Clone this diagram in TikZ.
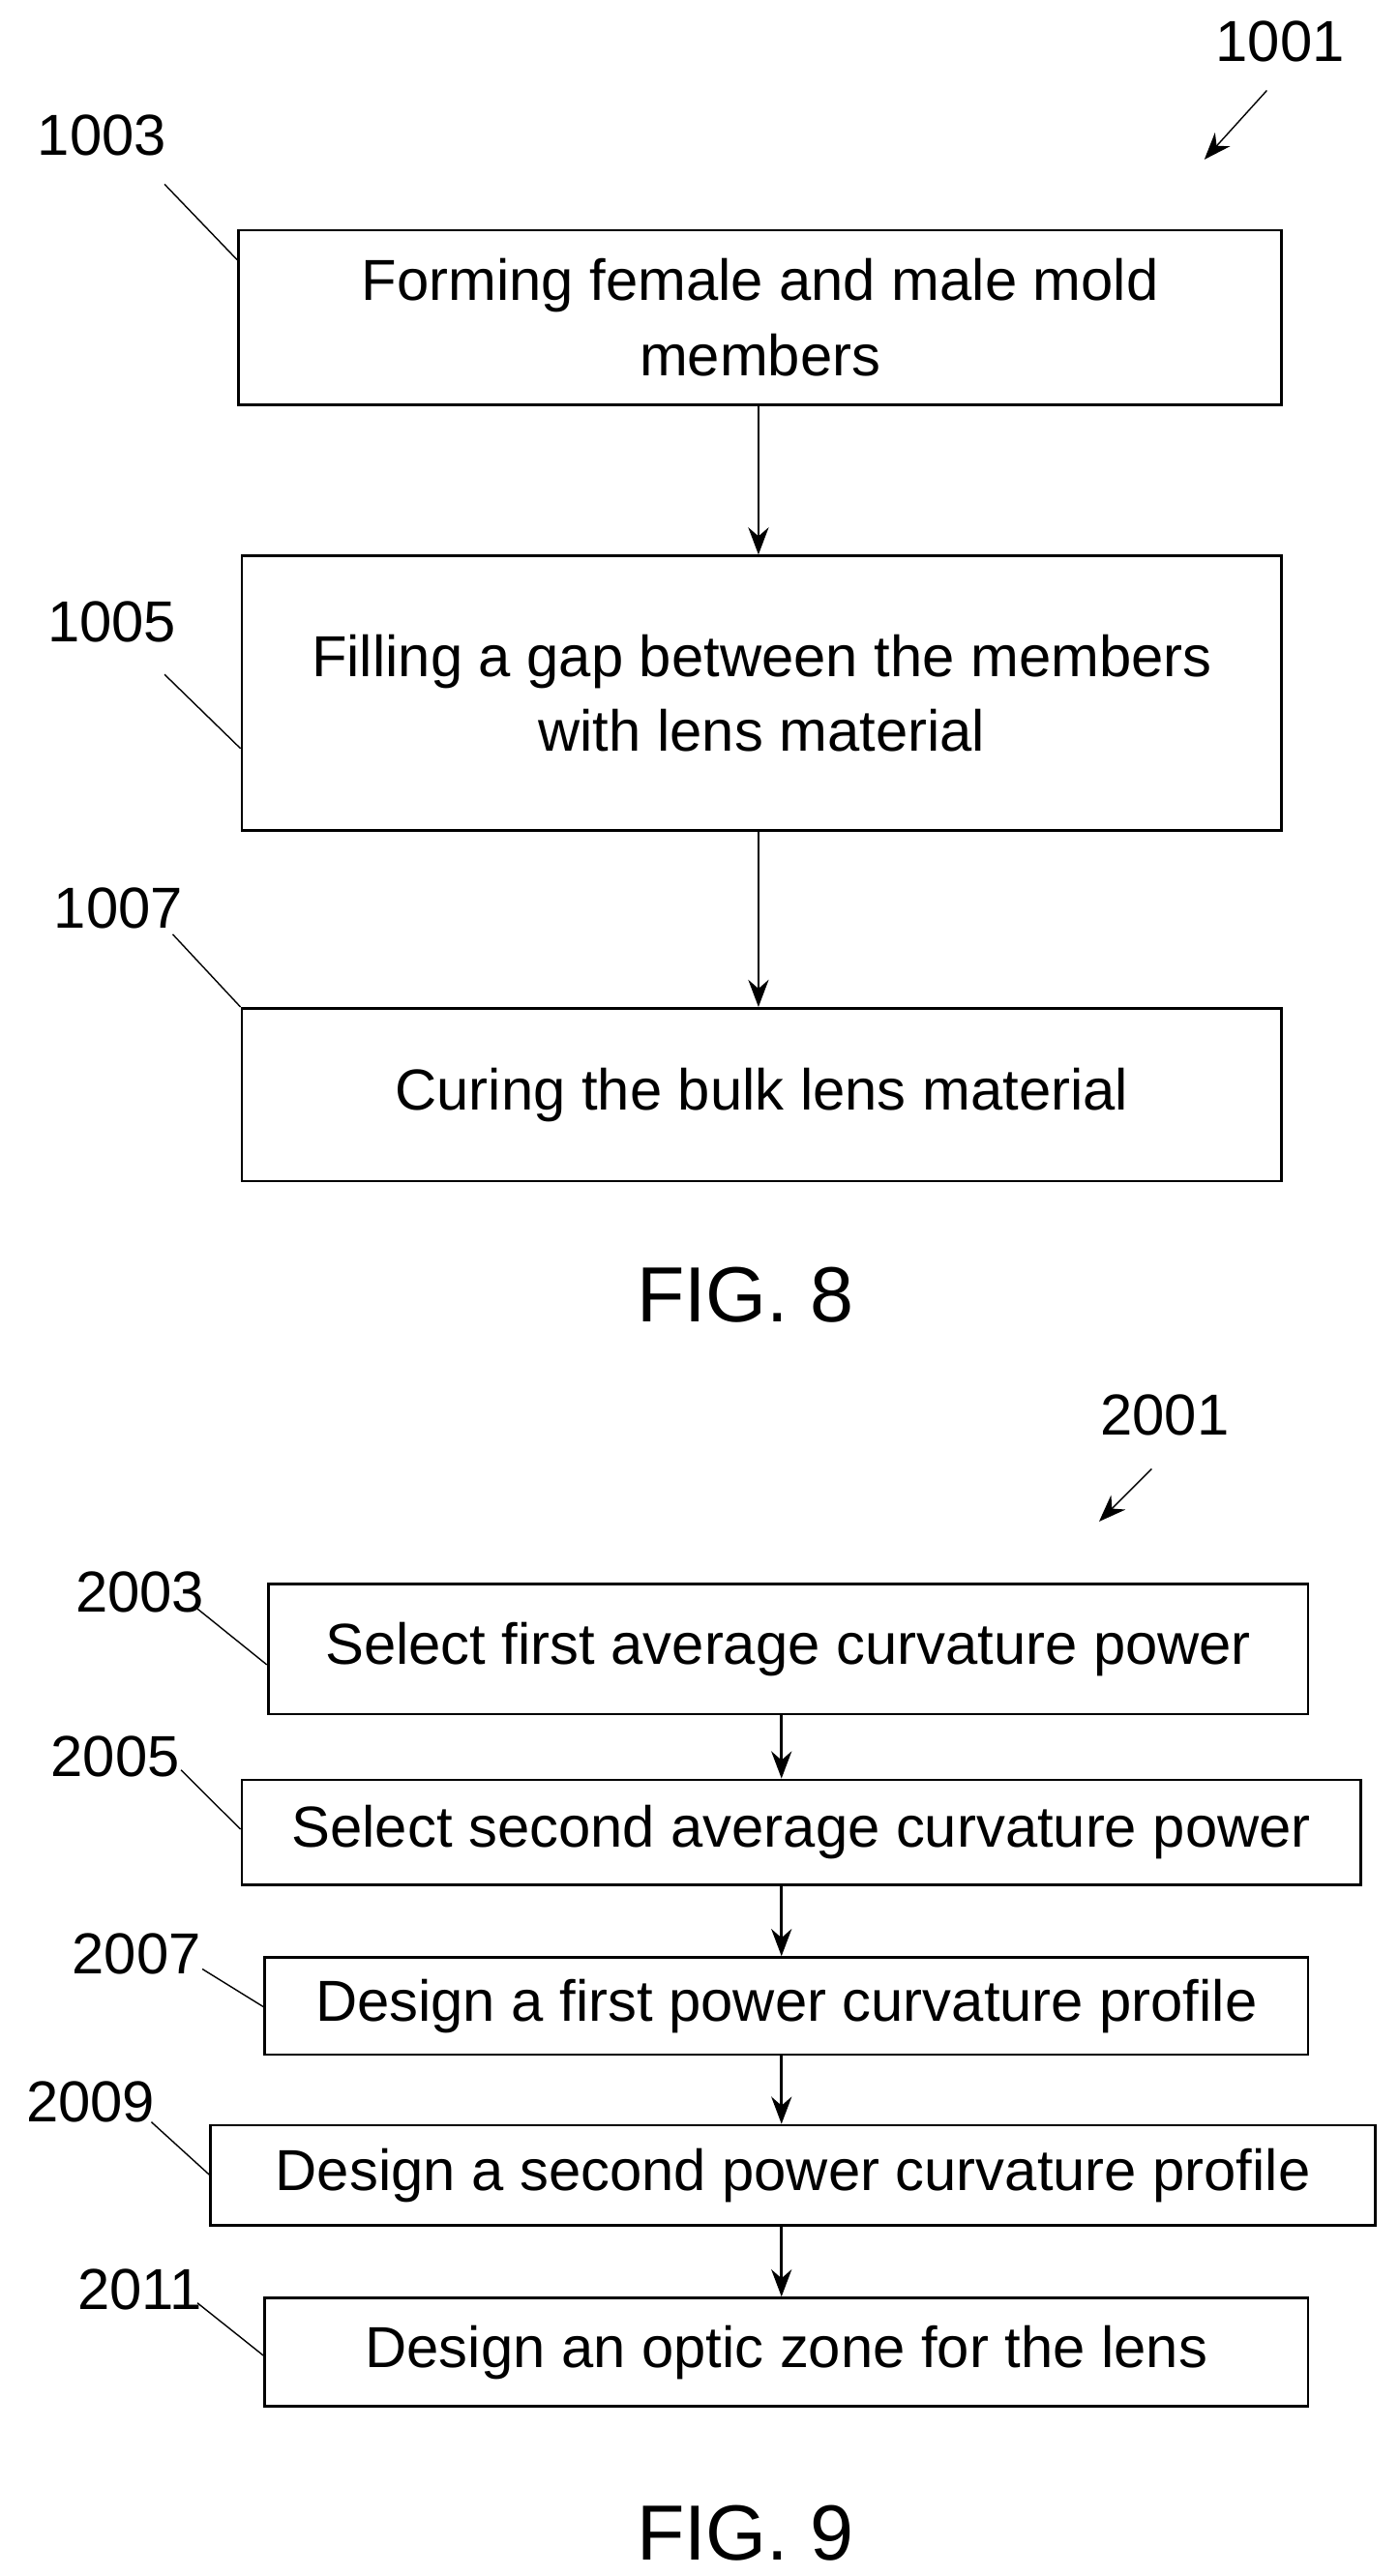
\documentclass[tikz,border=0pt]{standalone}
\usepackage{fontspec}
\setmainfont{Liberation Sans}
\usetikzlibrary{arrows.meta}
\tikzset{x=0.017cm, y=-0.017cm,
every step/.style={draw, thick, inner sep=0pt, align=center, font=\fontsize{17}{22}\selectfont},
lead/.style={thin},
flow/.style={draw, thick, -{Stealth[length=8pt]}},
ref/.style={font=\fontsize{17}{20}\selectfont},
fig/.style={font=\fontsize{23}{26}\selectfont}}

\begin{document}
\begin{tikzpicture}
    \useasboundingbox (0,0) rectangle (850,1566);

    % FIG. 8
    \node[every step, minimum width=634*0.017cm, minimum height=106*0.017cm] (s1003) at (462,193) {Forming female and male mold\\members};
    \node[every step, minimum width=632*0.017cm, minimum height=167*0.017cm] (s1005) at (463,421.5) {Filling a gap between the members\\with lens material};
    \node[every step, minimum width=632*0.017cm, minimum height=105*0.017cm] (s1007) at (463,665.5) {Curing the bulk lens material};

    \draw[flow] (s1003.south -| 461,0) -- (s1005.north -| 461,0);
    \draw[flow] (s1005.south -| 461,0) -- (s1007.north -| 461,0);

    \node[ref] (n1001) at (778,25) {1001};
    \node[ref] (n1003) at (62,82) {1003};
    \node[ref] (n1005) at (68,378) {1005};
    \node[ref] (n1007) at (72,552) {1007};
    \coordinate (t1001) at (732,97);
    \draw[flow, thin] (770,55) -- (t1001);
    \draw[lead] (100,112) -- (s1003.north west |- 0,158);
    \draw[lead] (100,410) -- (s1005.north west |- 0,455);
    \draw[lead] (105,568) -- (s1007.north west);

    \node[fig] (f8) at (453,787) {FIG. 8};

    % FIG. 9
    \node[every step, minimum width=632*0.017cm, minimum height=79*0.017cm] (s2003) at (479,1002.5) {Select first average curvature power};
    \node[every step, minimum width=680*0.017cm, minimum height=64*0.017cm] (s2005) at (487,1114) {Select second average curvature power};
    \node[every step, minimum width=634*0.017cm, minimum height=59*0.017cm] (s2007) at (478,1219.5) {Design a first power curvature profile};
    \node[every step, minimum width=708*0.017cm, minimum height=61*0.017cm] (s2009) at (482,1322.5) {Design a second power curvature profile};
    \node[every step, minimum width=634*0.017cm, minimum height=66*0.017cm] (s2011) at (478,1430) {Design an optic zone for the lens};

    \draw[flow] (s2003.south -| 475,0) -- (s2005.north -| 475,0);
    \draw[flow] (s2005.south -| 475,0) -- (s2007.north -| 475,0);
    \draw[flow] (s2007.south -| 475,0) -- (s2009.north -| 475,0);
    \draw[flow] (s2009.south -| 475,0) -- (s2011.north -| 475,0);

    \node[ref] (n2001) at (708,860) {2001};
    \node[ref] (n2003) at (85,968) {2003};
    \node[ref] (n2005) at (70,1068) {2005};
    \node[ref] (n2007) at (83,1188) {2007};
    \node[ref] (n2009) at (55,1278) {2009};
    \node[ref] (n2011) at (85,1392) {2011};
    \coordinate (t2001) at (668,925);
    \draw[flow, thin] (700,893) -- (t2001);
    \draw[lead] (120,978) -- (s2003.west |- 0,1012);
    \draw[lead] (110,1076) -- (s2005.west |- 0,1112);
    \draw[lead] (123,1197) -- (s2007.west |- 0,1220);
    \draw[lead] (92,1290) -- (s2009.west |- 0,1322);
    \draw[lead] (120,1400) -- (s2011.west |- 0,1432);

    \node[fig] (f9) at (453,1540) {FIG. 9};
\end{tikzpicture}
\end{document}
